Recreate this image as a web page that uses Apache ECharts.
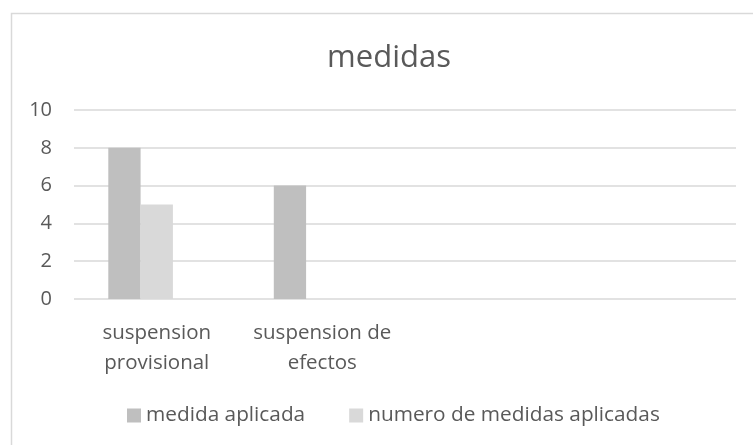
<!DOCTYPE html>
<html>
<head>
<meta charset="utf-8">
<script src="https://cdn.jsdelivr.net/npm/echarts@6/dist/echarts.min.js"></script>
<style>html,body{margin:0;padding:0;background:#fff;}#c{width:753px;height:445px;}</style>
</head>
<body>
<div id="c"></div>
<script>
var categories = ["suspension\nprovisional", "suspension de\nefectos", "", ""];
var seriesNames = ["medida aplicada", "numero de medidas aplicadas", ""];
var medidaAplicada = [8, 6, null, null];
var numeroMedidas = [5, null, null, null];
var tercera = [null, null, null, null];
var yTicks = { min: 0, max: 10, interval: 2 };

var chart = echarts.init(document.getElementById('c'), null, { renderer: 'canvas' });
var font = '"Open Sans", "Noto Sans", sans-serif';
chart.setOption({
  animation: false,
  backgroundColor: '#ffffff',
  textStyle: { fontFamily: font },
  graphic: [{
    type: 'rect', left: 9, top: 11, silent: true,
    shape: { x: 0, y: 0, width: 800, height: 500 },
    style: { fill: 'none', stroke: '#d9d9d9', lineWidth: 1.5 }
  }],
  title: {
    text: 'medidas', left: 384, top: 38, textAlign: 'center',
    textStyle: { fontFamily: font, fontSize: 31, fontWeight: 'normal', color: '#595959' }
  },
  legend: {
    left: 127, top: 405, padding: 0, itemWidth: 14, itemHeight: 14, itemGap: 44,
    icon: 'rect',
    textStyle: { fontFamily: font, fontSize: 20.8, color: '#595959' },
    data: [seriesNames[0], seriesNames[1]]
  },
  grid: { left: 74, right: 17, top: 110, bottom: 146, containLabel: false },
  xAxis: {
    type: 'category', data: categories,
    axisLine: { show: false }, axisTick: { show: false },
    axisLabel: { interval: 0, fontFamily: font, fontSize: 20.5, color: '#595959', margin: 19, lineHeight: 30 }
  },
  yAxis: {
    type: 'value', min: yTicks.min, max: yTicks.max, interval: yTicks.interval,
    axisLine: { show: false }, axisTick: { show: false },
    axisLabel: { fontFamily: font, fontSize: 20, color: '#595959', margin: 22 },
    splitLine: { lineStyle: { color: '#d9d9d9', width: 1.5 } }
  },
  series: [
    { name: seriesNames[0], type: 'bar', data: medidaAplicada, barWidth: 32.3, barGap: '0%', itemStyle: { color: '#bfbfbf' } },
    { name: seriesNames[1], type: 'bar', data: numeroMedidas, barWidth: 32.3, barGap: '0%', itemStyle: { color: '#d9d9d9' } },
    { name: seriesNames[2], type: 'bar', data: tercera, barWidth: 32.3, barGap: '0%', itemStyle: { color: '#a6a6a6' } }
  ]
});
</script>
</body>
</html>
